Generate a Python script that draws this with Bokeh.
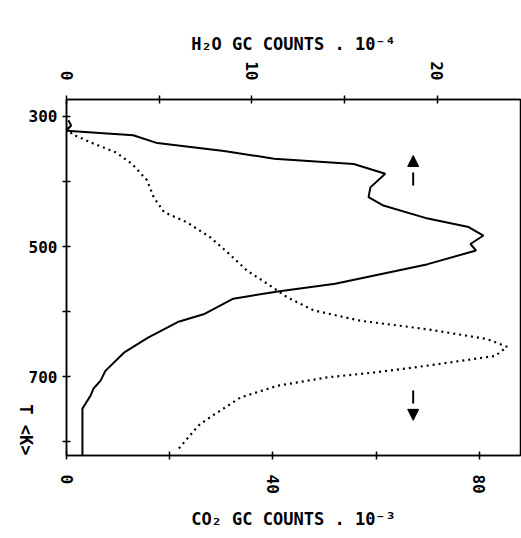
import math
from bokeh.plotting import figure
from bokeh.models import Range1d, LinearAxis, FixedTicker, Arrow, NormalHead
from bokeh.embed import file_html
from bokeh.resources import INLINE

# H2O (solid line, top axis, GC counts x 1e-4) vs temperature (K)
temp_h2o = [306, 314, 322, 329, 341, 353, 365, 373, 388, 409, 424, 437, 457,
            470, 483, 496, 506, 527, 542, 557, 569, 580, 604, 616, 640, 663,
            691, 706, 718, 729, 741, 749, 821]
h2o_counts = [0.1, 0.25, 0.0, 3.6, 4.9, 8.5, 11.2, 15.5, 17.2, 16.4, 16.3, 17.1,
              19.5, 21.7, 22.5, 21.8, 22.1, 19.5, 17.0, 14.5, 11.4, 9.0, 7.4,
              6.0, 4.4, 3.1, 2.1, 1.84, 1.46, 1.3, 1.03, 0.86, 0.86]

# CO2 (dotted line, bottom axis, GC counts x 1e-3) vs temperature (K)
temp_co2 = [316, 327, 342, 355, 373, 398, 424, 447, 463, 486, 511, 537, 557,
            578, 598, 614, 627, 642, 654, 668, 683, 693, 701, 714, 732, 765,
            775, 783, 811]
co2_counts = [0.3, 1.0, 5.3, 9.5, 12.7, 15.6, 16.9, 18.9, 23.4, 27.9, 31.5,
              35.0, 38.9, 42.8, 47.9, 57.0, 69.9, 81.5, 85.4, 83.1, 69.9, 60.2,
              50.5, 40.8, 33.7, 27.3, 25.6, 24.7, 21.7]

temp_ticks = [300, 400, 500, 600, 700, 800]
temp_labels = {400: "", 600: "", 800: ""}
co2_ticks = [0, 20, 40, 60, 80]
co2_labels = {20: "", 60: ""}
h2o_ticks = [0, 5, 10, 15, 20]
h2o_labels = {5: "", 15: ""}

FONT = "DejaVu Sans Mono"

p = figure(width=521, height=538, output_backend="svg", toolbar_location=None,
           x_range=Range1d(0, 88), y_range=Range1d(821, 274),
           min_border_left=66, min_border_right=1, min_border_top=99,
           min_border_bottom=83, background_fill_color="white",
           border_fill_color="white")
p.extra_x_ranges = {"h2o": Range1d(0, 24.5)}
p.grid.visible = False
p.outline_line_color = "black"
p.outline_line_width = 1.5


def style_axis(ax, ticks, overrides):
    ax.ticker = FixedTicker(ticks=ticks)
    ax.major_label_overrides = overrides
    ax.axis_line_color = "black"
    ax.axis_line_width = 1.5
    ax.major_tick_line_color = "black"
    ax.major_tick_line_width = 1.5
    ax.major_tick_in = 4
    ax.major_tick_out = 4
    ax.minor_tick_line_color = None
    ax.major_label_text_font = FONT
    ax.major_label_text_font_style = "bold"
    ax.major_label_text_font_size = "16px"
    ax.major_label_text_color = "black"
    ax.axis_label_text_font = FONT
    ax.axis_label_text_font_style = "bold"
    ax.axis_label_text_font_size = "17px"
    ax.axis_label_text_color = "black"


xb = p.xaxis[0]
style_axis(xb, co2_ticks, co2_labels)
xb.major_label_orientation = -math.pi / 2
xb.major_label_standoff = 15
xb.axis_label = "CO₂ GC COUNTS . 10⁻³"
xb.axis_label_standoff = 12

yl = p.yaxis[0]
style_axis(yl, temp_ticks, temp_labels)
yl.major_label_standoff = 5
yl.axis_label = "T <K>"
yl.axis_label_standoff = 0
props = yl.properties()
if "axis_label_orientation" in props:
    yl.axis_label_orientation = -math.pi / 2
if "axis_label_align" in props:
    yl.axis_label_align = "end"

top = LinearAxis(x_range_name="h2o")
style_axis(top, h2o_ticks, h2o_labels)
top.major_label_orientation = -math.pi / 2
top.major_label_standoff = 15
top.axis_label = "H₂O GC COUNTS . 10⁻⁴"
top.axis_label_standoff = 4
p.add_layout(top, "above")

p.line(h2o_counts, temp_h2o, x_range_name="h2o", line_color="black",
       line_width=2)
p.line(co2_counts, temp_co2, line_color="black", line_width=2.2,
       line_dash="2 4")

# direction arrows (which axis each curve belongs to)
ARROW_X = 67.2
p.segment(x0=[ARROW_X], y0=[386], x1=[ARROW_X], y1=[406], line_color="black",
          line_width=2)
p.add_layout(Arrow(end=NormalHead(size=11, fill_color="black",
                                  line_color="black"),
                   x_start=ARROW_X, y_start=380, x_end=ARROW_X, y_end=360,
                   line_alpha=0))
p.segment(x0=[ARROW_X], y0=[721], x1=[ARROW_X], y1=[741], line_color="black",
          line_width=2)
p.add_layout(Arrow(end=NormalHead(size=11, fill_color="black",
                                  line_color="black"),
                   x_start=ARROW_X, y_start=746, x_end=ARROW_X, y_end=767,
                   line_alpha=0))

open("out.html", "w").write(file_html(p, INLINE))
